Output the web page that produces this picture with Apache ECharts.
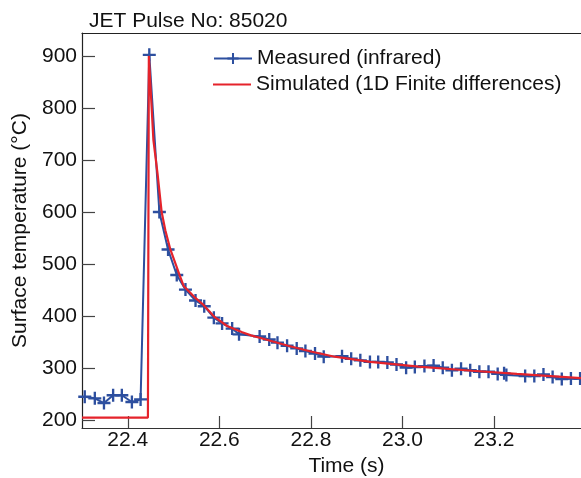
<!DOCTYPE html>
<html>
<head>
<meta charset="utf-8">
<script src="https://cdn.jsdelivr.net/npm/echarts@6/dist/echarts.min.js"></script>
<style>html,body{margin:0;padding:0;background:#fff}#c{width:581px;height:478px}</style>
</head>
<body>
<div id="c"></div>
<script>
const measuredTime = [22.306,22.328,22.348,22.368,22.387,22.409,22.428,22.447,22.469,22.488,22.507,22.526,22.548,22.567,22.588,22.606,22.628,22.643,22.688,22.709,22.727,22.748,22.769,22.788,22.809,22.828,22.868,22.888,22.908,22.929,22.947,22.967,22.987,23.008,23.027,23.048,23.068,23.088,23.108,23.128,23.148,23.168,23.188,23.208,23.222,23.227,23.268,23.288,23.308,23.328,23.348,23.368,23.388];
const measuredTemp = [245,242,233,248,248,235,240,902,600,528,479,451,430,419,397,386,376,365,361,355,349,343,338,333,328,322,323,318,315,312,312,311,307,301,302,304,305,301,296,299,296,293,293,289,290,287,285,285,288,283,279,280,280];
const simTime = [22.3,22.444,22.446,22.450,22.456,22.465,22.474,22.482,22.493,22.513,22.522,22.545,22.566,22.59,22.617,22.65,22.669,22.69,22.75,22.8,22.852,22.93,23.035,23.152,23.25,23.39];
const simTemp = [205,205,900,835,738,674,600,565,528,479,458,437,421,398,381,369,363,358,343,332,322,312,303,295,289,281];
const xTicks = [22.4,22.6,22.8,23.0,23.2];
const yTicks = [200,300,400,500,600,700,800,900];
const seriesNames = ['Measured (infrared)','Simulated (1D Finite differences)'];

const FONT = 'Liberation Sans, Arial, Helvetica, sans-serif';
const FS = 21;
const blue = '#2d4f9f';
const red = '#e5232b';
const cross = 'path://M4.1,0H5.9V4.1H10V5.9H5.9V10H4.1V5.9H0V4.1H4.1Z';

const chart = echarts.init(document.getElementById('c'), null, {renderer:'canvas'});
chart.setOption({
  animation:false,
  backgroundColor:'#fff',
  title:{text:'JET Pulse No: 85020', left:84, top:6, textStyle:{fontFamily:FONT,fontSize:FS,fontWeight:'normal',color:'#111'}},
  legend:[
    {data:[seriesNames[0]], left:208, top:43, itemWidth:38, itemHeight:14, textStyle:{fontFamily:FONT,fontSize:FS,color:'#111'}},
    {data:[{name:seriesNames[1], icon:'rect'}], left:208, top:69, itemWidth:38, itemHeight:2.2, textStyle:{fontFamily:FONT,fontSize:FS,color:'#111'}}
  ],
  grid:{left:82, top:33, right:0, bottom:50, containLabel:false, outerBoundsMode:'none'},
  xAxis:[{
    type:'value', min:22.3, max:23.39,
    name:'Time (s)', nameLocation:'middle', nameGap:22,
    nameTextStyle:{fontFamily:FONT,fontSize:FS,color:'#111',padding:[0,0,0,30]},
    axisLine:{lineStyle:{color:'#333',width:1.2}},
    axisTick:{inside:true,length:12,customValues:xTicks,lineStyle:{color:'#444',width:1.2}},
    axisLabel:{customValues:xTicks,margin:2,fontFamily:FONT,fontSize:FS,color:'#111',formatter:v=>v.toFixed(1)},
    splitLine:{show:false}
  },{
    type:'value', min:22.3, max:23.39, position:'top',
    axisLine:{show:true,lineStyle:{color:'#222',width:1.2}},
    axisTick:{show:false}, axisLabel:{show:false}, splitLine:{show:false}
  }],
  yAxis:{
    type:'value', min:185, max:944,
    name:'Surface temperature (\u00B0C)', nameLocation:'middle', nameGap:51, nameRotate:90,
    nameTextStyle:{fontFamily:FONT,fontSize:FS,color:'#111'},
    axisLine:{show:true,lineStyle:{color:'#222',width:1.2}},
    axisTick:{show:true,inside:true,length:13,customValues:yTicks,lineStyle:{color:'#444',width:1.2}},
    axisLabel:{customValues:yTicks,margin:5,fontFamily:FONT,fontSize:FS,color:'#111'},
    splitLine:{show:false}
  },
  series:[
    {name:seriesNames[0], type:'line', data:measuredTime.map((t,i)=>[t,measuredTemp[i]]),
     symbol:cross, symbolSize:13, showAllSymbol:true,
     itemStyle:{color:blue}, lineStyle:{color:blue,width:2}, z:2},
    {name:seriesNames[1], type:'line', data:simTime.map((t,i)=>[t,simTemp[i]]),
     symbol:'none', itemStyle:{color:red}, lineStyle:{color:red,width:2.2}, z:3}
  ]
});
</script>
</body>
</html>
